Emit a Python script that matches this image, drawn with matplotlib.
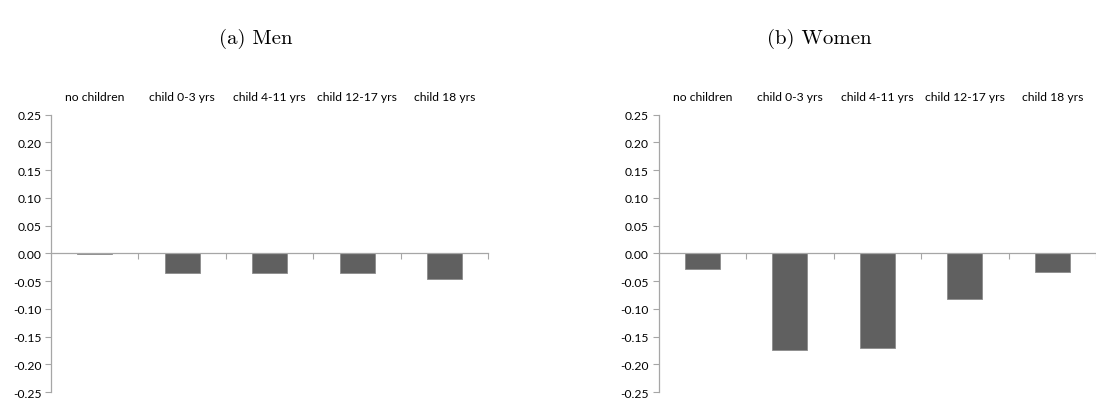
import numpy as np
import matplotlib
matplotlib.use("Agg")
import matplotlib.pyplot as plt

categories = ["no children", "child 0-3 yrs", "child 4-11 yrs", "child 12-17 yrs", "child 18 yrs"]
men = [-0.001, -0.035, -0.035, -0.035, -0.047]
women = [-0.028, -0.174, -0.171, -0.082, -0.033]
titles = ["(a) Men", "(b) Women"]
yticks = [0.25, 0.20, 0.15, 0.10, 0.05, 0.00, -0.05, -0.10, -0.15, -0.20, -0.25]

axis_col = "#a6a6a6"
bar_col = "#606060"

fig = plt.figure(figsize=(10.96, 4.06), dpi=100)

panels = [(0.0465, men), (0.601, women)]
for (left, vals), title, tx in zip(panels, titles, [0.233, 0.748]):
    ax = fig.add_axes([left, 0.032, 0.399, 0.683])
    x = np.arange(1, len(vals) + 1)
    ax.bar(x, vals, width=0.4, color=bar_col, edgecolor="#8c8c8c", linewidth=0.6, zorder=2)
    ax.set_xlim(0.5, len(vals) + 0.5)
    ax.set_ylim(-0.25, 0.25)

    ax.spines["top"].set_visible(False)
    ax.spines["right"].set_visible(False)
    ax.spines["bottom"].set_position(("data", 0))
    for s in ("left", "bottom"):
        ax.spines[s].set_color(axis_col)
        ax.spines[s].set_linewidth(0.9)

    ax.set_yticks(yticks)
    ax.set_yticklabels([f"{v:.2f}" for v in yticks], family="Lato", fontsize=8.7)
    ax.set_xticks(np.arange(1.5, len(vals) + 1, 1.0))
    ax.set_xticklabels([])
    ax.tick_params(axis="y", direction="out", length=4, color=axis_col, pad=3)
    ax.tick_params(axis="x", direction="out", length=4, color=axis_col)

    for xi, lab in zip(x, categories):
        ax.text(xi, 1.045, lab, transform=ax.get_xaxis_transform(), ha="center", va="bottom",
                family="Lato", fontsize=8.7)

    fig.text(tx, 0.905, title, ha="center", va="center", family="cmr10", fontsize=15)

fig.savefig("out.png", dpi=100)
